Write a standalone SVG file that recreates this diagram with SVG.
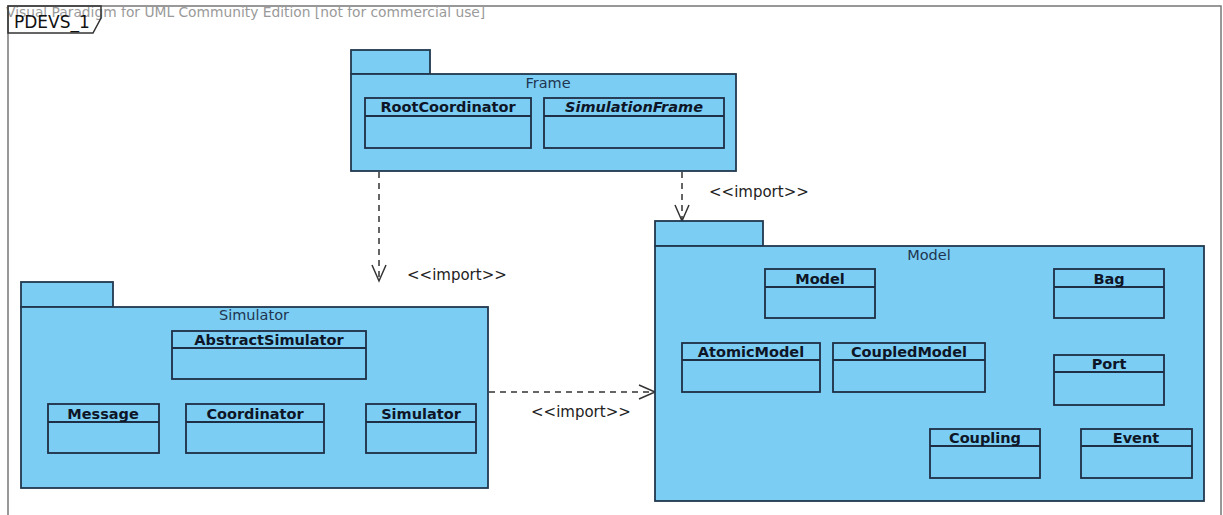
<svg xmlns="http://www.w3.org/2000/svg" width="1223" height="515" viewBox="0 0 1223 515">
<style>
.pkg{fill:#7BCDF4;stroke:#22384F;stroke-width:1.8}
.cls{fill:#7BCDF4;stroke:#1E2E45;stroke-width:1.8}
.cn{font-family:"DejaVu Sans",sans-serif;font-size:14.5px;font-weight:bold;fill:#0E1526;text-anchor:middle}
.it{font-style:italic}
.pt{font-family:"DejaVu Sans",sans-serif;font-size:14.5px;fill:#1F3550;text-anchor:middle}
.lbl{font-family:"DejaVu Sans",sans-serif;font-size:15px;fill:#222}
.dep{fill:none;stroke:#333;stroke-width:1.5;stroke-dasharray:6 5}
</style>
<defs>
<marker id="open" viewBox="0 0 20 20" refX="18" refY="10" markerWidth="20" markerHeight="20" markerUnits="userSpaceOnUse" orient="auto">
<path d="M2,3 L18,10 L2,17" fill="none" stroke="#333" stroke-width="1.5"/>
</marker>
</defs>
<rect x="0" y="0" width="1223" height="515" fill="#FFFFFF"/>
<g id="diagram-frame">
<path d="M8,520 V6 H1221 V520" fill="none" stroke="#777" stroke-width="1.5"/>
<text x="6" y="17" font-family="DejaVu Sans,sans-serif" font-size="13.8" fill="#9A9A9A">Visual Paradigm for UML Community Edition [not for commercial use]</text>
<path d="M8,6 H101 V18 L93,33 H8 Z" fill="none" stroke="#333" stroke-width="1.5"/>
<text x="14" y="28" font-family="DejaVu Sans,sans-serif" font-size="17" fill="#111">PDEVS_1</text>
</g>
<g id="connectors">
<path class="dep" d="M379,172 V281" marker-end="url(#open)"/>
<path class="dep" d="M682,172 V221" marker-end="url(#open)"/>
<path class="dep" d="M489,392 H655" marker-end="url(#open)"/>
<text class="lbl" x="407" y="280">&lt;&lt;import&gt;&gt;</text>
<text class="lbl" x="709" y="197">&lt;&lt;import&gt;&gt;</text>
<text class="lbl" x="531" y="417">&lt;&lt;import&gt;&gt;</text>
</g>
<g id="pkg-frame">
<rect class="pkg" x="351" y="50" width="79" height="24"/>
<rect class="pkg" x="351" y="74" width="385" height="97"/>
<text class="pt" x="548" y="88">Frame</text>
</g>
<g id="cls-rootcoordinator">
<rect class="cls" x="365" y="98" width="166" height="50"/>
<line x1="365" y1="116" x2="531" y2="116" stroke="#1E2E45" stroke-width="1.8"/>
<text class="cn" x="448" y="112">RootCoordinator</text>
</g>
<g id="cls-simulationframe">
<rect class="cls" x="544" y="98" width="180" height="50"/>
<line x1="544" y1="116" x2="724" y2="116" stroke="#1E2E45" stroke-width="1.8"/>
<text class="cn it" x="634" y="112">SimulationFrame</text>
</g>
<g id="pkg-simulator">
<rect class="pkg" x="21" y="282" width="92" height="25"/>
<rect class="pkg" x="21" y="307" width="467" height="181"/>
<text class="pt" x="254" y="320">Simulator</text>
</g>
<g id="cls-abstractsimulator">
<rect class="cls" x="172" y="331" width="194" height="48"/>
<line x1="172" y1="348" x2="366" y2="348" stroke="#1E2E45" stroke-width="1.8"/>
<text class="cn" x="269" y="345">AbstractSimulator</text>
</g>
<g id="cls-message">
<rect class="cls" x="48" y="404" width="111" height="49"/>
<line x1="48" y1="422" x2="159" y2="422" stroke="#1E2E45" stroke-width="1.8"/>
<text class="cn" x="103" y="419">Message</text>
</g>
<g id="cls-coordinator">
<rect class="cls" x="186" y="404" width="138" height="49"/>
<line x1="186" y1="422" x2="324" y2="422" stroke="#1E2E45" stroke-width="1.8"/>
<text class="cn" x="255" y="419">Coordinator</text>
</g>
<g id="cls-simulator">
<rect class="cls" x="366" y="404" width="110" height="49"/>
<line x1="366" y1="422" x2="476" y2="422" stroke="#1E2E45" stroke-width="1.8"/>
<text class="cn" x="421" y="419">Simulator</text>
</g>
<g id="pkg-model">
<rect class="pkg" x="655" y="221" width="108" height="25"/>
<rect class="pkg" x="655" y="246" width="549" height="255"/>
<text class="pt" x="929" y="260">Model</text>
</g>
<g id="cls-model">
<rect class="cls" x="765" y="269" width="110" height="49"/>
<line x1="765" y1="287" x2="875" y2="287" stroke="#1E2E45" stroke-width="1.8"/>
<text class="cn" x="820" y="284">Model</text>
</g>
<g id="cls-bag">
<rect class="cls" x="1054" y="269" width="110" height="49"/>
<line x1="1054" y1="287" x2="1164" y2="287" stroke="#1E2E45" stroke-width="1.8"/>
<text class="cn" x="1109" y="284">Bag</text>
</g>
<g id="cls-atomicmodel">
<rect class="cls" x="682" y="343" width="138" height="49"/>
<line x1="682" y1="360" x2="820" y2="360" stroke="#1E2E45" stroke-width="1.8"/>
<text class="cn" x="751" y="357">AtomicModel</text>
</g>
<g id="cls-coupledmodel">
<rect class="cls" x="833" y="343" width="152" height="49"/>
<line x1="833" y1="360" x2="985" y2="360" stroke="#1E2E45" stroke-width="1.8"/>
<text class="cn" x="909" y="357">CoupledModel</text>
</g>
<g id="cls-port">
<rect class="cls" x="1054" y="355" width="110" height="50"/>
<line x1="1054" y1="372" x2="1164" y2="372" stroke="#1E2E45" stroke-width="1.8"/>
<text class="cn" x="1109" y="369">Port</text>
</g>
<g id="cls-coupling">
<rect class="cls" x="930" y="429" width="110" height="49"/>
<line x1="930" y1="446" x2="1040" y2="446" stroke="#1E2E45" stroke-width="1.8"/>
<text class="cn" x="985" y="443">Coupling</text>
</g>
<g id="cls-event">
<rect class="cls" x="1081" y="429" width="111" height="49"/>
<line x1="1081" y1="446" x2="1192" y2="446" stroke="#1E2E45" stroke-width="1.8"/>
<text class="cn" x="1136" y="443">Event</text>
</g>
</svg>
